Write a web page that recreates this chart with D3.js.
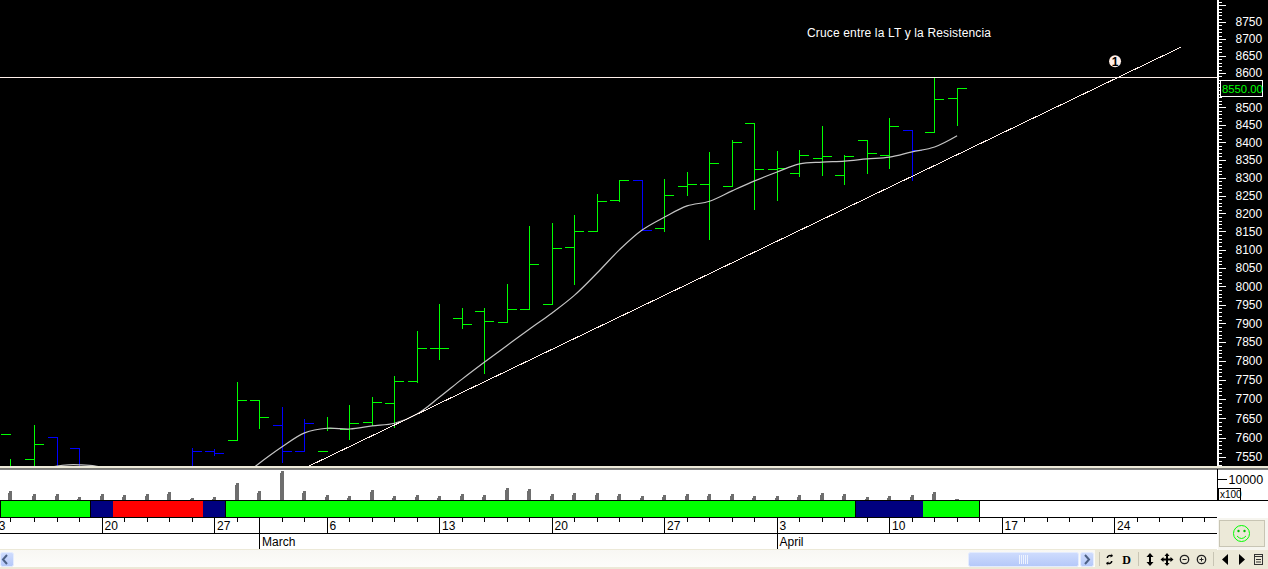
<!DOCTYPE html>
<html><head><meta charset="utf-8">
<style>html,body{margin:0;padding:0;background:#fff;overflow:hidden}svg{display:block}text{font-family:"Liberation Sans",Arial,sans-serif}</style>
<script src="https://cdn.jsdelivr.net/npm/d3@7/dist/d3.min.js"></script>
</head><body><svg id="c" width="1268" height="569"></svg>
<script>
// --- data ---
const sessions = [-4.05,-3,-2,-1,0,1,2,3,4,5,6,7,8,9,10,11,12,13,14,15,16,17,18,19,20,21,22,23,24,25,26,27,28,29,30,31,32,33,34,35,36,37,38];
const opens  = [7609,7543,7599,7573,7490,7495,7490,7500,7500,7563,7593,7697,7632,7563,7563,7622,7640,7687,7745,7832,7912,7933,7903,7936,7952,8107,8149,8237,8291,8157,8274,8282,8274,8453,8322,8313,8353,8305,8404,8364,8433,8427,8525];
const highs  = [7543,7632,7599,7573,7505,7505,7505,7510,7573,7568,7742,7697,7679,7647,7653,7682,7705,7758,7879,7952,7939,7939,8004,8163,8171,8193,8254,8291,8291,8294,8316,8370,8404,8453,8373,8378,8444,8364,8404,8467,8433,8583,8554];
const lows   = [7480,7480,7480,7480,7470,7475,7470,7480,7490,7555,7593,7624,7535,7563,7617,7596,7632,7627,7742,7805,7885,7766,7903,7936,7952,8004,8149,8232,8154,8151,8251,8127,8274,8212,8237,8302,8305,8280,8313,8327,8291,8427,8447];
const closes = [7490,7583,7490,7500,7480,7485,7480,7490,7563,7559,7697,7653,7563,7635,7624,7637,7690,7745,7832,7832,7898,7906,7936,8058,8104,8149,8234,8291,8154,8251,8282,8341,8401,8322,8325,8364,8361,8361,8367,8444,8376,8522,8554];
const barKinds = ["g","g","b","b","n","n","n","n","b","b","g","g","b","b","g","g","g","g","g","g","g","g","g","g","g","g","g","g","b","g","g","g","g","g","g","g","g","g","g","g","b","g","g"];
const volumes = [4280,2860,2860,1430,2860,2380,2860,3810,950,1430,8090,4280,13800,4280,2380,1900,4760,1900,2380,1900,2860,2380,5710,5240,2860,3330,3330,2860,1900,2380,2860,2860,2860,1900,1900,2380,3330,2860,1430,1900,2380,3810,480];
const maSessions = [-2.5,-2,-1.5,-1,-0.3,0.5,2,4,5,6,6.83,8,9,10,11,12,13,14,15,16,17,18,19,20,21,22,23,24,25,26,27,28,29,30,31,32,33,34,35,36,37,38];
const maValues = [7520,7527,7530,7530,7527,7515,7490,7470,7480,7489,7527,7576,7612,7624,7622,7630,7637,7661,7705,7752,7797,7841,7885,7928,7976,8036,8100,8154,8190,8221,8234,8263,8291,8316,8339,8344,8347,8353,8358,8373,8387,8419];
const trendSessions = [9.2,47.96];
const trendPrices = [7527,8676];
const resistance = 8588;
const marker = {session:45.02,price:8634,label:"1"};
const title = "Cruce entre la LT y la Resistencia";
const lastPrice = "8550.00";
const stripRuns = [[-4.5,-0.5,"#00ff00"],[-0.5,0.5,"#000080"],[0.5,4.5,"#ff0000"],[4.5,5.5,"#000080"],[5.5,33.5,"#00ff00"],[33.5,36.5,"#000080"],[36.5,39,"#00ff00"]];
const weekTicks = [-5,0,5,10,15,20,25,30,35,40,45];
const weekLabels = ["13","20","27","6","13","20","27","3","10","17","24"];
const monthTicks = [7,30];
const monthLabels = ["March","April"];
const priceLabels = d3.range(7550,8801,50);
const priceMinor = d3.range(7530,8811,10);

// --- scales ---
const svg = d3.select("#c");
const W=1268,H=569, axisX=1217, chartB=466;
const x = d3.scaleLinear().domain([0,1]).range([102.1,124.6]);
const y = d3.scaleLog().domain([7550,8750]).range([457,22]);
const vy = d3.scaleLinear().domain([0,10000]).range([500,479]);
const px = v=>Math.floor(v)+.5;

const defs = svg.append("defs");
defs.append("clipPath").attr("id","cl").append("rect").attr("width",axisX).attr("height",chartB);
const grad=(id,a,b)=>{const g=defs.append("linearGradient").attr("id",id).attr("x1",0).attr("x2",0).attr("y1",0).attr("y2",1);
 g.append("stop").attr("offset",0).attr("stop-color",a);g.append("stop").attr("offset",1).attr("stop-color",b);};
grad("trk","#f8f7f3","#fdfdfb"); grad("thumb","#cfdcfd","#b4c8f9");

// --- panels ---
svg.append("rect").attr("width",W).attr("height",H).attr("fill","#fff");
svg.append("rect").attr("width",W).attr("height",chartB).attr("fill","#000");
svg.append("rect").attr("y",chartB).attr("width",W).attr("height",2.5).attr("fill","#ece9d8");
svg.append("rect").attr("y",468.5).attr("width",W).attr("height",1).attr("fill","#000");

// --- price chart ---
const g = svg.append("g").attr("clip-path","url(#cl)").attr("shape-rendering","crispEdges");
const colour = {g:"#00ff00",b:"#0000ff",n:"#00ff00"};
sessions.forEach((s,i)=>{
  const c=colour[barKinds[i]], X=px(x(s));
  g.append("line").attr("x1",X).attr("x2",X).attr("y1",Math.floor(y(highs[i]))).attr("y2",Math.floor(y(lows[i]))+1).attr("stroke",c);
  const yo=px(y(opens[i])), yc=px(y(closes[i]));
  g.append("line").attr("x1",X-9.5).attr("x2",X).attr("y1",yo).attr("y2",yo).attr("stroke",c);
  g.append("line").attr("x1",X).attr("x2",X+9.5).attr("y1",yc).attr("y2",yc).attr("stroke",c);
});
const gl = svg.append("g").attr("clip-path","url(#cl)");
gl.append("path").attr("fill","none").attr("stroke","#c4c4c4").attr("stroke-width",1.2)
  .attr("d",d3.line().curve(d3.curveCatmullRom).x((d,i)=>x(maSessions[i])).y(d=>y(d))(maValues));
gl.append("path").attr("fill","none").attr("stroke","#fff0ea").attr("stroke-width",1).attr("shape-rendering","crispEdges")
  .attr("d",d3.line().x((d,i)=>x(trendSessions[i])).y(d=>y(d))(trendPrices));
gl.append("line").attr("x1",0).attr("x2",axisX).attr("y1",px(y(resistance))).attr("y2",px(y(resistance))).attr("stroke","#fff0ea").attr("shape-rendering","crispEdges");
svg.append("circle").attr("cx",x(marker.session)).attr("cy",y(marker.price)).attr("r",6).attr("fill","#ffeee6");
svg.append("text").attr("x",x(marker.session)).attr("y",y(marker.price)+4.5).attr("text-anchor","middle").attr("font-size",12).attr("font-weight","bold").attr("fill","#000").text(marker.label);
svg.append("text").attr("x",807).attr("y",37).attr("font-size",12).attr("fill","#fff").attr("letter-spacing",0.15).text(title);

// --- price axis ---
const clipAxis = svg.append("g").attr("shape-rendering","crispEdges");
const axMinor = clipAxis.append("g").attr("transform",`translate(${axisX+.5},0)`).call(d3.axisRight(y).tickValues(priceMinor.filter(v=>y(v)<chartB&&y(v)>0)).tickSize(4).tickFormat(""));
const axMajor = clipAxis.append("g").attr("transform",`translate(${axisX+.5},0)`).call(d3.axisRight(y).tickValues(priceLabels).tickSize(8).tickFormat(d3.format("d")));
[axMinor,axMajor].forEach(a=>{a.selectAll("path").remove();a.selectAll("line").attr("stroke","#fff");});
axMajor.selectAll("text").attr("fill","#fff").attr("font-size",12).attr("x",18).attr("font-family",'"Liberation Sans",Arial,sans-serif');
axMajor.selectAll(".tick").filter(d=>d===8800).select("text").remove();
axMajor.selectAll(".tick").filter(d=>d===8550).select("text").remove();
clipAxis.append("rect").attr("x",axisX).attr("y",0).attr("width",2).attr("height",chartB).attr("fill","#fff");
svg.append("rect").attr("x",1220.5).attr("y",80.5).attr("width",42).attr("height",16).attr("fill","#000").attr("stroke","#fff").attr("shape-rendering","crispEdges");
svg.append("text").attr("x",1222).attr("y",93).attr("font-size",11.3).attr("fill","#00ff00").text(lastPrice);

// --- volume ---
const vg = svg.append("g").attr("shape-rendering","crispEdges").attr("fill","#6e6e6e");
sessions.forEach((s,i)=>{
  const X=Math.floor(x(s)), top=Math.round(vy(volumes[i]));
  vg.append("rect").attr("x",X-1).attr("y",top).attr("width",3).attr("height",500-top);
  vg.append("rect").attr("x",X-2).attr("y",Math.min(top+2,499)).attr("width",1).attr("height",Math.max(500-top-2,1));
});
const va = svg.append("g").attr("transform",`translate(${axisX+.5},0)`).attr("shape-rendering","crispEdges")
  .call(d3.axisRight(vy).tickValues([10000]).tickSize(9).tickFormat(d3.format("d")));
va.select("path").remove(); va.selectAll("line").attr("stroke","#000");
va.selectAll("text").attr("font-size",12.5).attr("x",11).attr("fill","#000").attr("font-family",'"Liberation Sans",Arial,sans-serif');
svg.append("line").attr("x1",axisX+.5).attr("x2",axisX+.5).attr("y1",469).attr("y2",500).attr("stroke","#000").attr("shape-rendering","crispEdges");
svg.append("rect").attr("x",1218.5).attr("y",488.5).attr("width",22).attr("height",12).attr("fill","#fff").attr("stroke","#000").attr("shape-rendering","crispEdges");
svg.append("text").attr("x",1220).attr("y",498).attr("font-size",10).attr("fill","#000").text("x100");

// --- state strip ---
const sg = svg.append("g").attr("shape-rendering","crispEdges");
stripRuns.forEach(r=>{
  sg.append("rect").attr("x",x(r[0])).attr("y",500).attr("width",x(r[1])-x(r[0])).attr("height",17).attr("fill",r[2]);
  sg.append("line").attr("x1",x(r[1])).attr("x2",x(r[1])).attr("y1",500).attr("y2",517).attr("stroke","#000");
});
sg.append("line").attr("x1",.5).attr("x2",.5).attr("y1",500).attr("y2",517).attr("stroke","#000");
[500.5,517.5].forEach(v=>sg.append("line").attr("x1",0).attr("x2",W).attr("y1",v).attr("y2",v).attr("stroke","#000"));

// --- date axis ---
const dg = svg.append("g").attr("shape-rendering","crispEdges").attr("stroke","#000");
[-4.05].concat(d3.range(-3,50)).forEach(i=>dg.append("line").attr("x1",px(x(i))).attr("x2",px(x(i))).attr("y1",517).attr("y2",522));
weekTicks.forEach(i=>dg.append("line").attr("x1",px(x(i))).attr("x2",px(x(i))).attr("y1",517).attr("y2",533));
monthTicks.forEach(i=>dg.append("line").attr("x1",px(x(i))).attr("x2",px(x(i))).attr("y1",517).attr("y2",549));
dg.append("line").attr("x1",0).attr("x2",axisX).attr("y1",533.5).attr("y2",533.5);
weekTicks.forEach((i,k)=>svg.append("text").attr("x",x(i)+2.4).attr("y",530).attr("font-size",12).attr("fill","#000").text(weekLabels[k]));
monthTicks.forEach((i,k)=>svg.append("text").attr("x",x(i)+2.4).attr("y",546).attr("font-size",12).attr("fill","#000").text(monthLabels[k]));

// --- window chrome ---
const ch = svg.append("g");
ch.append("rect").attr("x",1217).attr("y",517).attr("width",51).attr("height",52).attr("fill","#fff");
ch.append("rect").attr("x",1218).attr("y",518).attr("width",50).attr("height",32).attr("fill","#f6f5ef");
ch.append("rect").attr("x",1219.5).attr("y",520.5).attr("width",45).attr("height",26).attr("fill","#ece9d8").attr("stroke","#c8c5b4");
ch.append("rect").attr("y",549).attr("width",1217).attr("height",1.5).attr("fill","#ece9d8");
ch.append("rect").attr("y",550).attr("width",W).attr("height",19).attr("fill","url(#trk)");
ch.append("rect").attr("y",567).attr("width",W).attr("height",2).attr("fill","#ece9d8");
const face=ch.append("g").attr("fill","none").attr("stroke","#00ff00");
face.append("circle").attr("cx",1241.5).attr("cy",533.5).attr("r",8);
face.append("path").attr("d","M1237 536 Q1241.5 541 1246 536");
ch.append("circle").attr("cx",1238.5).attr("cy",531).attr("r",1.2).attr("fill","#00c000");
ch.append("circle").attr("cx",1244.5).attr("cy",531).attr("r",1.2).attr("fill","#00c000");
const btn=(bx,bw)=>ch.append("rect").attr("x",bx+.5).attr("y",552.5).attr("width",bw).attr("height",14).attr("rx",2).attr("fill","url(#thumb)").attr("stroke","#e4ecfe");
btn(0,13); btn(968,110); btn(1080,13);
ch.append("path").attr("d","M7 555 L3 559.5 L7 564").attr("fill","none").attr("stroke","#4d6185").attr("stroke-width",2);
ch.append("path").attr("d","M1085 555 L1089 559.5 L1085 564").attr("fill","none").attr("stroke","#4d6185").attr("stroke-width",2);
[1019,1021,1023,1025,1027].forEach(v=>ch.append("line").attr("x1",v+.5).attr("x2",v+.5).attr("y1",555).attr("y2",564).attr("stroke","#eef3fe"));
ch.append("rect").attr("x",1095).attr("y",550).attr("width",173).attr("height",19).attr("fill","#ece9d8");
[1099,1138,1213].forEach(v=>ch.append("line").attr("x1",v+.5).attr("x2",v+.5).attr("y1",552).attr("y2",566).attr("stroke","#c8c5b4"));
const ic=ch.append("g").attr("fill","#000").attr("stroke","none");
ic.append("path").attr("d","M1106.5 558 a3.5 3.5 0 0 1 5 -3 l0-1.5 l1.5 2.5 l-2.5 1.5 l0-1.2 a2 2 0 0 0 -2.5 1.7z M1112.5 561 a3.5 3.5 0 0 1 -5 3 l0 1.5 l-1.5 -2.5 l2.5-1.5 l0 1.2 a2 2 0 0 0 2.5 -1.7z");
ic.append("text").attr("x",1126.5).attr("y",564).attr("font-size",12).attr("font-weight","bold").attr("text-anchor","middle").attr("style",'font-family:"Liberation Serif",serif').text("D");
ic.append("path").attr("d","M1150 553l-3.5 4h2.5v5h-2.5l3.5 4 3.5-4h-2.5v-5h2.5z");
ic.append("path").attr("d","M1167 553l-2.5 3h1.5v2.5h-2.5v-1.5l-3 2.5 3 2.5v-1.5h2.5v2.5h-1.5l2.5 3 2.5-3h-1.5v-2.5h2.5v1.5l3-2.5-3-2.5v1.5h-2.5v-2.5h1.5z");
[[1184.5,false],[1201.5,true]].forEach(([cx,plus])=>{
  ch.append("circle").attr("cx",cx).attr("cy",559.5).attr("r",4.2).attr("fill","none").attr("stroke","#222").attr("stroke-width",1.3);
  ch.append("line").attr("x1",cx-2).attr("x2",cx+2).attr("y1",559.5).attr("y2",559.5).attr("stroke","#222");
  if(plus) ch.append("line").attr("x1",cx).attr("x2",cx).attr("y1",557.5).attr("y2",561.5).attr("stroke","#222");
});
ic.append("path").attr("d","M1228 554v11l-6-5.5z");
ic.append("path").attr("d","M1239 554v11l6-5.5z");
ch.append("rect").attr("x",1254.5).attr("y",554.5).attr("width",8).attr("height",10).attr("fill","none").attr("stroke","#333");
ch.append("line").attr("x1",1255).attr("x2",1262).attr("y1",556.5).attr("y2",556.5).attr("stroke","#333");
ch.append("line").attr("x1",1256).attr("x2",1261).attr("y1",559.5).attr("y2",559.5).attr("stroke","#333");
ch.append("line").attr("x1",1256).attr("x2",1261).attr("y1",562).attr("y2",562).attr("stroke","#333");
</script></body></html>
